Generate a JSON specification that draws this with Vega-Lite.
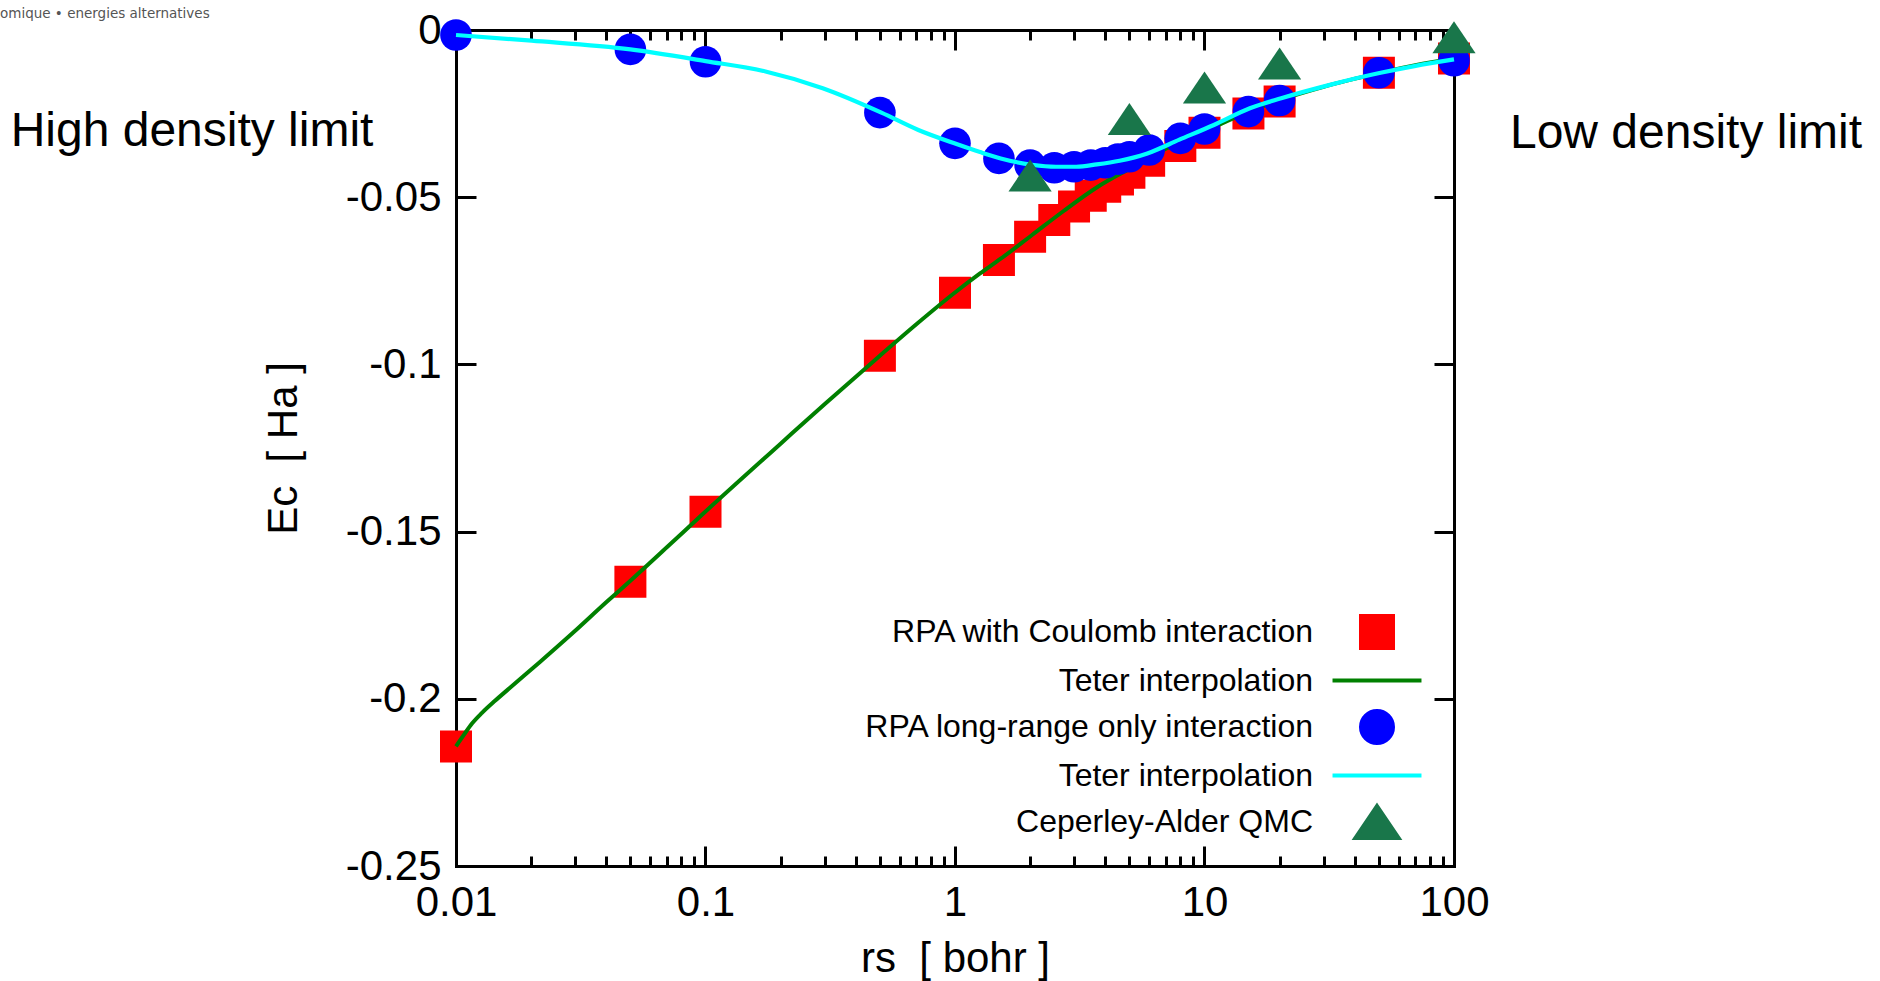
{
  "$schema": "https://vega.github.io/schema/vega-lite/v6.json",
  "autosize": {"type": "none"},
  "width": 998,
  "height": 836,
  "padding": {"left": 456, "top": 30, "right": 426, "bottom": 115},
  "background": "white",
  "datasets": {
    "squares": [
      {"rs": 0.01, "Ec": -0.2143, "series": "RPA with Coulomb interaction"},
      {"rs": 0.05, "Ec": -0.1650, "series": "RPA with Coulomb interaction"},
      {"rs": 0.1, "Ec": -0.1441, "series": "RPA with Coulomb interaction"},
      {"rs": 0.5, "Ec": -0.0974, "series": "RPA with Coulomb interaction"},
      {"rs": 1, "Ec": -0.0786, "series": "RPA with Coulomb interaction"},
      {"rs": 1.5, "Ec": -0.0688, "series": "RPA with Coulomb interaction"},
      {"rs": 2, "Ec": -0.0618, "series": "RPA with Coulomb interaction"},
      {"rs": 2.5, "Ec": -0.0568, "series": "RPA with Coulomb interaction"},
      {"rs": 3, "Ec": -0.0528, "series": "RPA with Coulomb interaction"},
      {"rs": 3.5, "Ec": -0.0496, "series": "RPA with Coulomb interaction"},
      {"rs": 4, "Ec": -0.0469, "series": "RPA with Coulomb interaction"},
      {"rs": 4.5, "Ec": -0.0447, "series": "RPA with Coulomb interaction"},
      {"rs": 5, "Ec": -0.0427, "series": "RPA with Coulomb interaction"},
      {"rs": 6, "Ec": -0.0391, "series": "RPA with Coulomb interaction"},
      {"rs": 8, "Ec": -0.0347, "series": "RPA with Coulomb interaction"},
      {"rs": 10, "Ec": -0.0307, "series": "RPA with Coulomb interaction"},
      {"rs": 15, "Ec": -0.0250, "series": "RPA with Coulomb interaction"},
      {"rs": 20, "Ec": -0.0214, "series": "RPA with Coulomb interaction"},
      {"rs": 50, "Ec": -0.0128, "series": "RPA with Coulomb interaction"},
      {"rs": 100, "Ec": -0.0085, "series": "RPA with Coulomb interaction"}
    ],
    "green": [
      {"rs": 0.01, "Ec": -0.2142, "series": "Teter interpolation"},
      {"rs": 0.01077, "Ec": -0.2107, "series": "Teter interpolation"},
      {"rs": 0.01159, "Ec": -0.2074, "series": "Teter interpolation"},
      {"rs": 0.01271, "Ec": -0.2042, "series": "Teter interpolation"},
      {"rs": 0.01433, "Ec": -0.2006, "series": "Teter interpolation"},
      {"rs": 0.01646, "Ec": -0.1967, "series": "Teter interpolation"},
      {"rs": 0.0217, "Ec": -0.1890, "series": "Teter interpolation"},
      {"rs": 0.0295, "Ec": -0.1802, "series": "Teter interpolation"},
      {"rs": 0.0402, "Ec": -0.1710, "series": "Teter interpolation"},
      {"rs": 0.05, "Ec": -0.1647, "series": "Teter interpolation"},
      {"rs": 0.07, "Ec": -0.1547, "series": "Teter interpolation"},
      {"rs": 0.1, "Ec": -0.1440, "series": "Teter interpolation"},
      {"rs": 0.2, "Ec": -0.1237, "series": "Teter interpolation"},
      {"rs": 0.3, "Ec": -0.1119, "series": "Teter interpolation"},
      {"rs": 0.5, "Ec": -0.0974, "series": "Teter interpolation"},
      {"rs": 0.7, "Ec": -0.0880, "series": "Teter interpolation"},
      {"rs": 1, "Ec": -0.0785, "series": "Teter interpolation"},
      {"rs": 1.26, "Ec": -0.0728, "series": "Teter interpolation"},
      {"rs": 1.525, "Ec": -0.0684, "series": "Teter interpolation"},
      {"rs": 2.036, "Ec": -0.0613, "series": "Teter interpolation"},
      {"rs": 2.716, "Ec": -0.0542, "series": "Teter interpolation"},
      {"rs": 3.697, "Ec": -0.0471, "series": "Teter interpolation"},
      {"rs": 5.03, "Ec": -0.0414, "series": "Teter interpolation"},
      {"rs": 7, "Ec": -0.0355, "series": "Teter interpolation"},
      {"rs": 10, "Ec": -0.0303, "series": "Teter interpolation"},
      {"rs": 15, "Ec": -0.0245, "series": "Teter interpolation"},
      {"rs": 20, "Ec": -0.0210, "series": "Teter interpolation"},
      {"rs": 30, "Ec": -0.0170, "series": "Teter interpolation"},
      {"rs": 50, "Ec": -0.0129, "series": "Teter interpolation"},
      {"rs": 70, "Ec": -0.0105, "series": "Teter interpolation"},
      {"rs": 100, "Ec": -0.0086, "series": "Teter interpolation"}
    ],
    "circles": [
      {"rs": 0.01, "Ec": -0.0015, "series": "RPA long-range only interaction"},
      {"rs": 0.05, "Ec": -0.0058, "series": "RPA long-range only interaction"},
      {"rs": 0.1, "Ec": -0.0095, "series": "RPA long-range only interaction"},
      {"rs": 0.5, "Ec": -0.0247, "series": "RPA long-range only interaction"},
      {"rs": 1, "Ec": -0.0339, "series": "RPA long-range only interaction"},
      {"rs": 1.5, "Ec": -0.0384, "series": "RPA long-range only interaction"},
      {"rs": 2, "Ec": -0.0404, "series": "RPA long-range only interaction"},
      {"rs": 2.5, "Ec": -0.0412, "series": "RPA long-range only interaction"},
      {"rs": 3, "Ec": -0.0409, "series": "RPA long-range only interaction"},
      {"rs": 3.5, "Ec": -0.0404, "series": "RPA long-range only interaction"},
      {"rs": 4, "Ec": -0.0397, "series": "RPA long-range only interaction"},
      {"rs": 4.5, "Ec": -0.0386, "series": "RPA long-range only interaction"},
      {"rs": 5, "Ec": -0.0379, "series": "RPA long-range only interaction"},
      {"rs": 6, "Ec": -0.0359, "series": "RPA long-range only interaction"},
      {"rs": 8, "Ec": -0.0324, "series": "RPA long-range only interaction"},
      {"rs": 10, "Ec": -0.0296, "series": "RPA long-range only interaction"},
      {"rs": 15, "Ec": -0.0244, "series": "RPA long-range only interaction"},
      {"rs": 20, "Ec": -0.0211, "series": "RPA long-range only interaction"},
      {"rs": 50, "Ec": -0.0128, "series": "RPA long-range only interaction"},
      {"rs": 100, "Ec": -0.0092, "series": "RPA long-range only interaction"}
    ],
    "cyan": [
      {"rs": 0.01, "Ec": -0.0015, "series": "Teter interpolation "},
      {"rs": 0.0201, "Ec": -0.0032, "series": "Teter interpolation "},
      {"rs": 0.05, "Ec": -0.0058, "series": "Teter interpolation "},
      {"rs": 0.1, "Ec": -0.0093, "series": "Teter interpolation "},
      {"rs": 0.174, "Ec": -0.0124, "series": "Teter interpolation "},
      {"rs": 0.295, "Ec": -0.0174, "series": "Teter interpolation "},
      {"rs": 0.507, "Ec": -0.0247, "series": "Teter interpolation "},
      {"rs": 0.713, "Ec": -0.0299, "series": "Teter interpolation "},
      {"rs": 1.014, "Ec": -0.0341, "series": "Teter interpolation "},
      {"rs": 1.26, "Ec": -0.0365, "series": "Teter interpolation "},
      {"rs": 1.525, "Ec": -0.0384, "series": "Teter interpolation "},
      {"rs": 2.03, "Ec": -0.0403, "series": "Teter interpolation "},
      {"rs": 2.54, "Ec": -0.0409, "series": "Teter interpolation "},
      {"rs": 3.06, "Ec": -0.0409, "series": "Teter interpolation "},
      {"rs": 3.7, "Ec": -0.0402, "series": "Teter interpolation "},
      {"rs": 4.57, "Ec": -0.0391, "series": "Teter interpolation "},
      {"rs": 5.9, "Ec": -0.0369, "series": "Teter interpolation "},
      {"rs": 7.93, "Ec": -0.0328, "series": "Teter interpolation "},
      {"rs": 10.9, "Ec": -0.0284, "series": "Teter interpolation "},
      {"rs": 15.2, "Ec": -0.0234, "series": "Teter interpolation "},
      {"rs": 20.3, "Ec": -0.0204, "series": "Teter interpolation "},
      {"rs": 31.8, "Ec": -0.0164, "series": "Teter interpolation "},
      {"rs": 50.8, "Ec": -0.0128, "series": "Teter interpolation "},
      {"rs": 69.4, "Ec": -0.0108, "series": "Teter interpolation "},
      {"rs": 100, "Ec": -0.0088, "series": "Teter interpolation "}
    ],
    "triangles": [
      {"rs": 2, "Ec": -0.0435, "series": "Ceperley-Alder QMC"},
      {"rs": 5, "Ec": -0.0266, "series": "Ceperley-Alder QMC"},
      {"rs": 10, "Ec": -0.0172, "series": "Ceperley-Alder QMC"},
      {"rs": 20, "Ec": -0.0100, "series": "Ceperley-Alder QMC"},
      {"rs": 100, "Ec": -0.0022, "series": "Ceperley-Alder QMC"}
    ],
    "limits": [
      {"rs": 0.000875, "Ec": -0.0305, "text": "High density limit"},
      {"rs": 851, "Ec": -0.031, "text": "Low density limit"}
    ],
    "mark": [
      {"rs": 0.0001487, "Ec": 0.0048, "text": "omique • energies alternatives"}
    ]
  },
  "resolve": {"axis": {"x": "independent", "y": "independent"}},
  "layer": [
    {
      "data": {"name": "squares"},
      "mark": {"type": "point", "filled": true, "opacity": 1, "size": 1024},
      "encoding": {
        "x": {"field": "rs", "type": "quantitative",
          "scale": {"type": "log", "domain": [0.01, 100], "nice": false},
          "axis": {"orient": "bottom", "values": [0.01, 0.1, 1, 10, 100], "tickSize": -20, "labelPadding": 36, "labelExpr": "format(datum.value, '~g')", "title": "rs \u00a0[ bohr ]", "titlePadding": 15, "domain": true, "domainCap": "square"}},
        "y": {"field": "Ec", "type": "quantitative",
          "scale": {"domain": [-0.25, 0], "nice": false, "zero": false},
          "axis": {"orient": "left", "values": [0, -0.05, -0.1, -0.15, -0.2, -0.25], "tickSize": -20, "labelPadding": 35, "labelExpr": "datum.value == 0 ? '0' : '-' + format(-datum.value, '~g')", "title": "Ec \u00a0[ Ha ]", "titlePadding": 40, "domain": true, "domainCap": "square"}},
        "color": {"field": "series", "type": "nominal",
          "scale": {"domain": ["RPA with Coulomb interaction", "Teter interpolation", "RPA long-range only interaction", "Teter interpolation ", "Ceperley-Alder QMC"],
                    "range": ["#ff0000", "#008000", "#0000ff", "#00ffff", "#19764a"]},
          "legend": {"title": null, "orient": "none", "legendX": 903, "legendY": 584, "padding": 0,
            "labelFontSize": 32, "labelFont": "Liberation Sans", "labelColor": "black", "labelAlign": "right", "labelOffset": -82, "labelLimit": 0,
            "labelExpr": "trim(datum.label)", "symbolSize": 1024, "rowPadding": 6.5, "symbolStrokeWidth": 4,
            "encode": {"symbols": {"update": {"stroke": {"signal": "datum.value === 'Teter interpolation' ? '#008000' : (datum.value === 'Teter interpolation ' ? '#00ffff' : 'transparent')"}, "strokeWidth": {"value": 4}}}}}},
        "shape": {"field": "series", "type": "nominal",
          "scale": {"domain": ["RPA with Coulomb interaction", "Teter interpolation", "RPA long-range only interaction", "Teter interpolation ", "Ceperley-Alder QMC"],
                    "range": ["square", "M-2.78,0H2.78", "circle", "M-2.78,0H2.78", "M0,-1L1.35,1L-1.35,1Z"]},
          "legend": {"title": null, "orient": "none", "legendX": 903, "legendY": 584}}
      }
    },
    {
      "data": {"name": "green"},
      "mark": {"type": "line", "strokeWidth": 4, "interpolate": "monotone"},
      "encoding": {
        "x": {"field": "rs", "type": "quantitative",
          "axis": {"orient": "top", "values": [0.01, 0.1, 1, 10, 100], "tickSize": -20, "labels": false, "title": null, "domain": true, "domainCap": "square"}},
        "y": {"field": "Ec", "type": "quantitative",
          "axis": {"orient": "right", "values": [0, -0.05, -0.1, -0.15, -0.2, -0.25], "tickSize": -20, "labels": false, "title": null, "domain": true, "domainCap": "square"}},
        "color": {"field": "series", "type": "nominal", "legend": null}
      }
    },
    {
      "data": {"name": "circles"},
      "mark": {"type": "point", "filled": true, "opacity": 1, "size": 1000},
      "encoding": {
        "x": {"field": "rs", "type": "quantitative",
          "axis": {"orient": "bottom", "values": [0.02, 0.03, 0.04, 0.05, 0.06, 0.07, 0.08, 0.09, 0.2, 0.3, 0.4, 0.5, 0.6, 0.7, 0.8, 0.9, 2, 3, 4, 5, 6, 7, 8, 9, 20, 30, 40, 50, 60, 70, 80, 90], "tickSize": -10, "labels": false, "title": null, "domain": false}},
        "y": {"field": "Ec", "type": "quantitative", "axis": null},
        "color": {"field": "series", "type": "nominal", "legend": null},
        "shape": {"field": "series", "type": "nominal", "legend": null}
      }
    },
    {
      "data": {"name": "cyan"},
      "mark": {"type": "line", "strokeWidth": 4.2, "interpolate": "monotone"},
      "encoding": {
        "x": {"field": "rs", "type": "quantitative",
          "axis": {"orient": "top", "values": [0.02, 0.03, 0.04, 0.05, 0.06, 0.07, 0.08, 0.09, 0.2, 0.3, 0.4, 0.5, 0.6, 0.7, 0.8, 0.9, 2, 3, 4, 5, 6, 7, 8, 9, 20, 30, 40, 50, 60, 70, 80, 90], "tickSize": -10, "labels": false, "title": null, "domain": false}},
        "y": {"field": "Ec", "type": "quantitative", "axis": null},
        "color": {"field": "series", "type": "nominal", "legend": null}
      }
    },
    {
      "data": {"name": "triangles"},
      "mark": {"type": "point", "filled": true, "opacity": 1, "size": 1024},
      "encoding": {
        "x": {"field": "rs", "type": "quantitative", "axis": null},
        "y": {"field": "Ec", "type": "quantitative", "axis": null},
        "color": {"field": "series", "type": "nominal", "legend": null},
        "shape": {"field": "series", "type": "nominal", "legend": null}
      }
    },
    {
      "data": {"name": "limits"},
      "mark": {"type": "text", "fontSize": 48, "font": "Liberation Sans", "color": "black", "align": "center", "baseline": "middle"},
      "encoding": {
        "x": {"field": "rs", "type": "quantitative", "axis": null},
        "y": {"field": "Ec", "type": "quantitative", "axis": null},
        "text": {"field": "text"}
      }
    },
    {
      "data": {"name": "mark"},
      "mark": {"type": "text", "fontSize": 13.5, "font": "DejaVu Sans", "color": "#555555", "align": "left", "baseline": "middle"},
      "encoding": {
        "x": {"field": "rs", "type": "quantitative", "axis": null},
        "y": {"field": "Ec", "type": "quantitative", "axis": null},
        "text": {"field": "text"}
      }
    }
  ],
  "config": {
    "font": "Liberation Sans",
    "view": {"stroke": null},
    "axis": {"labelFont": "Liberation Sans", "titleFont": "Liberation Sans", "labelFontSize": 42, "titleFontSize": 42, "titleFontWeight": "normal", "labelColor": "black", "titleColor": "black", "tickColor": "black", "domainColor": "black", "grid": false, "tickWidth": 3, "domainWidth": 3, "zindex": 1, "labelFlush": false, "labelOverlap": false}
  }
}
